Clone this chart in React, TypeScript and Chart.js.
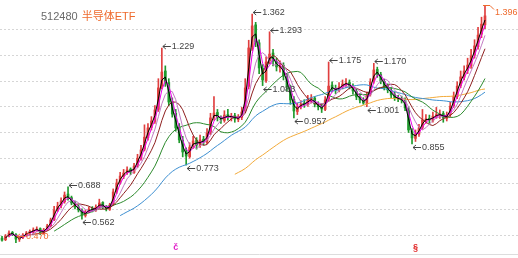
import { useEffect, useRef } from 'react';
import { Chart, registerables } from 'chart.js';

Chart.register(...registerables);

// ---- data (one candle per ~3.7 trading days) ----
const opens = [
  0.488, 0.482, 0.497, 0.510, 0.502, 0.483, 0.490, 0.499, 0.510, 0.511,
  0.519, 0.525, 0.507, 0.522, 0.536, 0.560, 0.600, 0.615, 0.630, 0.660,
  0.646, 0.626, 0.610, 0.597, 0.576, 0.592, 0.603, 0.596, 0.610, 0.627,
  0.610, 0.600, 0.620, 0.670, 0.705, 0.728, 0.745, 0.757, 0.744, 0.772,
  0.798, 0.835, 0.880, 0.920, 0.943, 0.990, 1.080, 1.140, 1.095, 1.020,
  0.975, 0.920, 0.870, 0.826, 0.806, 0.845, 0.870, 0.849, 0.874, 0.861,
  0.900, 0.959, 0.978, 0.955, 0.947, 0.970, 0.958, 0.966, 0.951, 0.959,
  0.985, 1.080, 1.235, 1.320, 1.250, 1.150, 1.102, 1.180, 1.210, 1.176,
  1.154, 1.162, 1.118, 1.075, 1.030, 0.982, 1.003, 1.013, 1.009, 1.030,
  1.034, 1.009, 1.002, 0.990, 1.030, 1.085, 1.068, 1.064, 1.080, 1.087,
  1.095, 1.079, 1.060, 1.041, 1.025, 1.013, 1.050, 1.100, 1.146, 1.126,
  1.099, 1.080, 1.064, 1.048, 1.033, 1.029, 1.025, 0.993, 0.905, 0.877,
  0.893, 0.920, 0.947, 0.955, 0.947, 0.966, 0.966, 0.974, 0.955, 0.970,
  1.005, 1.040, 1.084, 1.115, 1.143, 1.160, 1.202, 1.235, 1.284, 1.320,
];
const highs = [
  0.495, 0.502, 0.516, 0.514, 0.506, 0.494, 0.506, 0.514, 0.520, 0.528,
  0.532, 0.528, 0.526, 0.542, 0.566, 0.612, 0.628, 0.645, 0.668, 0.688,
  0.652, 0.632, 0.618, 0.602, 0.596, 0.610, 0.611, 0.618, 0.640, 0.630,
  0.615, 0.624, 0.680, 0.718, 0.745, 0.756, 0.766, 0.762, 0.780, 0.815,
  0.850, 0.930, 0.935, 0.962, 1.005, 1.110, 1.229, 1.160, 1.110, 1.035,
  0.990, 0.935, 0.885, 0.840, 0.860, 0.885, 0.880, 0.890, 0.885, 0.915,
  0.975, 1.040, 0.990, 0.965, 0.985, 0.990, 0.975, 0.975, 0.970, 0.998,
  1.110, 1.260, 1.362, 1.330, 1.262, 1.165, 1.195, 1.293, 1.225, 1.190,
  1.180, 1.172, 1.128, 1.085, 1.040, 1.015, 1.025, 1.028, 1.045, 1.048,
  1.040, 1.020, 1.012, 1.040, 1.175, 1.098, 1.085, 1.095, 1.105, 1.110,
  1.105, 1.090, 1.070, 1.052, 1.036, 1.058, 1.110, 1.170, 1.155, 1.135,
  1.108, 1.090, 1.075, 1.058, 1.045, 1.042, 1.035, 1.000, 0.915, 0.910,
  0.932, 0.990, 0.970, 0.968, 0.980, 0.998, 0.988, 0.982, 0.980, 1.018,
  1.058, 1.098, 1.140, 1.160, 1.190, 1.225, 1.262, 1.310, 1.350, 1.396,
];
const lows = [
  0.476, 0.478, 0.493, 0.498, 0.470, 0.475, 0.486, 0.496, 0.503, 0.506,
  0.514, 0.502, 0.503, 0.518, 0.532, 0.556, 0.592, 0.606, 0.624, 0.636,
  0.618, 0.602, 0.590, 0.562, 0.570, 0.586, 0.590, 0.592, 0.604, 0.602,
  0.594, 0.596, 0.616, 0.662, 0.698, 0.720, 0.736, 0.736, 0.740, 0.764,
  0.792, 0.828, 0.870, 0.910, 0.935, 0.982, 1.070, 1.080, 1.005, 0.960,
  0.905, 0.860, 0.805, 0.773, 0.800, 0.838, 0.835, 0.842, 0.852, 0.855,
  0.892, 0.948, 0.945, 0.935, 0.940, 0.948, 0.945, 0.940, 0.942, 0.950,
  0.978, 1.070, 1.220, 1.235, 1.130, 1.083, 1.095, 1.168, 1.160, 1.140,
  1.135, 1.105, 1.062, 1.010, 0.957, 0.970, 0.992, 0.998, 1.002, 1.015,
  1.000, 0.988, 0.978, 0.985, 1.022, 1.058, 1.052, 1.058, 1.070, 1.075,
  1.070, 1.050, 1.028, 1.015, 1.010, 1.001, 1.042, 1.092, 1.115, 1.090,
  1.066, 1.055, 1.035, 1.025, 1.020, 1.015, 0.985, 0.900, 0.855, 0.865,
  0.885, 0.912, 0.935, 0.935, 0.940, 0.955, 0.955, 0.940, 0.945, 0.962,
  0.998, 1.032, 1.075, 1.105, 1.130, 1.150, 1.190, 1.225, 1.270, 1.305,
];
const closes = [
  0.480, 0.496, 0.508, 0.504, 0.484, 0.488, 0.500, 0.508, 0.512, 0.520,
  0.523, 0.508, 0.520, 0.535, 0.559, 0.598, 0.613, 0.633, 0.656, 0.644,
  0.625, 0.609, 0.598, 0.578, 0.590, 0.601, 0.598, 0.609, 0.625, 0.609,
  0.601, 0.617, 0.668, 0.703, 0.730, 0.742, 0.754, 0.746, 0.769, 0.800,
  0.832, 0.882, 0.918, 0.945, 0.988, 1.074, 1.136, 1.097, 1.019, 0.972,
  0.918, 0.871, 0.824, 0.808, 0.843, 0.867, 0.851, 0.871, 0.863, 0.898,
  0.957, 0.976, 0.957, 0.949, 0.968, 0.960, 0.964, 0.953, 0.957, 0.980,
  1.074, 1.230, 1.316, 1.253, 1.152, 1.105, 1.175, 1.206, 1.179, 1.156,
  1.160, 1.120, 1.078, 1.027, 0.984, 1.000, 1.011, 1.011, 1.027, 1.031,
  1.011, 1.000, 0.992, 1.027, 1.081, 1.070, 1.066, 1.078, 1.089, 1.093,
  1.081, 1.062, 1.039, 1.027, 1.015, 1.046, 1.097, 1.144, 1.128, 1.101,
  1.078, 1.066, 1.046, 1.035, 1.031, 1.027, 0.996, 0.910, 0.879, 0.895,
  0.918, 0.949, 0.953, 0.949, 0.964, 0.968, 0.972, 0.957, 0.968, 1.003,
  1.042, 1.081, 1.117, 1.140, 1.163, 1.199, 1.238, 1.280, 1.323, 1.355,
];

// moving-average periods (in candles) and their line colours
const maPeriods = [2, 3, 5, 8, 16, 35, 68];
const maColors = ['#000000', '#ee00ee', '#c27bc2', '#8e1f1f', '#2c8a2c', '#3d8fd1', '#f2aa3a'];

// candles whose high / low is marked with a value label
const highLabelIdx = [19, 46, 72, 77, 94, 107, 139];
const lowLabelIdx = [4, 23, 53, 75, 84, 105, 118];

// event markers under the candles
const markerIdx = [50, 119];
const markerText = ['č', '§'];

const gridValues = [0.5, 0.6, 0.7, 0.8, 0.9, 1.0, 1.1, 1.2, 1.3];
const titleCode = '512480';
const titleName = '半导体ETF';

const X_MIN = -0.58;
const X_MAX = 148.5;
const Y_MIN = 0.426;
const Y_MAX = 1.417;

const UP = '#e03f3f';
const DOWN = '#1f9a2c';
const LABEL = '#444444';
const HILITE = '#ee6a2c';
const FONT = '"Liberation Sans", "Noto Sans CJK SC", sans-serif';

function movingAverage(values: number[], n: number) {
  return values.map((_, i) => {
    if (i < n - 1) return { x: i, y: null as number | null };
    let s = 0;
    for (let k = i - n + 1; k <= i; k++) s += values[k];
    return { x: i, y: s / n };
  });
}

export default function App() {
  const ref = useRef<HTMLCanvasElement>(null);

  useEffect(() => {
    if (!ref.current) return;
    const colors = closes.map((c, i) => (c >= opens[i] ? UP : DOWN));
    const maxHigh = Math.max(...highs);
    const minLow = Math.min(...lows);

    const overlay = {
      id: 'overlay',
      afterDatasetsDraw(chart: any) {
        const ctx = chart.ctx as CanvasRenderingContext2D;
        const xs = chart.scales.x;
        const ys = chart.scales.y;
        ctx.save();
        ctx.lineWidth = 1;
        ctx.textAlign = 'left';
        ctx.textBaseline = 'middle';
        ctx.font = '9px ' + FONT;

        const arrowLabel = (x: number, y: number, text: string, color: string) => {
          const yy = Math.round(y) + 0.5;
          ctx.strokeStyle = color;
          ctx.beginPath();
          ctx.moveTo(x, yy);
          ctx.lineTo(x + 8, yy);
          ctx.moveTo(x + 3, yy - 2.5);
          ctx.lineTo(x, yy);
          ctx.lineTo(x + 3, yy + 2.5);
          ctx.stroke();
          ctx.fillStyle = color;
          ctx.fillText(text, x + 9, y + 0.5);
        };

        highLabelIdx.forEach((i) => {
          const v = highs[i];
          const x = xs.getPixelForValue(i) + 1;
          const y = ys.getPixelForValue(v);
          if (v === maxHigh) {
            const yy = Math.round(y) + 0.5;
            ctx.strokeStyle = HILITE;
            ctx.beginPath();
            ctx.moveTo(x - 3, yy);
            ctx.lineTo(x + 4, yy);
            ctx.lineTo(x + 8, yy + 4);
            ctx.stroke();
            ctx.fillStyle = HILITE;
            ctx.fillText(v.toFixed(3), x + 9, y + 7);
          } else {
            arrowLabel(x, y - 2, v.toFixed(3), LABEL);
          }
        });
        lowLabelIdx.forEach((i) => {
          const v = lows[i];
          const x = xs.getPixelForValue(i) + 1;
          const y = ys.getPixelForValue(v);
          if (v === minLow) {
            arrowLabel(x, Math.min(y, 236), v.toFixed(3), HILITE);
          } else {
            arrowLabel(x, y + 3, v.toFixed(3), LABEL);
          }
        });

        // title
        ctx.font = '11px ' + FONT;
        ctx.fillStyle = '#6a6a6a';
        ctx.fillText(titleCode, 41, 17);
        const w = ctx.measureText(titleCode).width;
        ctx.fillStyle = HILITE;
        ctx.fillText(titleName, 41 + w + 4, 17);

        // markers
        ctx.font = 'bold 9px ' + FONT;
        ctx.textAlign = 'center';
        markerIdx.forEach((i, k) => {
          ctx.fillStyle = k === 0 ? '#e020c8' : '#e02020';
          ctx.fillText(markerText[k], xs.getPixelForValue(i), 248);
        });
        ctx.restore();
      },
    };

    const chart = new Chart(ref.current, {
      type: 'bar',
      data: {
        datasets: [
          ...maPeriods.map((n, k) => ({
            type: 'line' as const,
            data: movingAverage(closes, n),
            borderColor: maColors[k],
            borderWidth: 1,
            pointRadius: 0,
            tension: 0,
            spanGaps: false,
            order: 1,
          })),
          {
            type: 'bar' as const,
            data: closes.map((_, i) => ({ x: i, y: [lows[i], highs[i]] })),
            backgroundColor: colors,
            borderWidth: 0,
            barThickness: 1,
            grouped: false,
            order: 10,
          },
          {
            type: 'bar' as const,
            data: closes.map((c, i) => ({ x: i, y: [opens[i], c] })),
            backgroundColor: colors,
            borderWidth: 0,
            barThickness: 2,
            minBarLength: 1,
            grouped: false,
            order: 9,
          },
        ] as any,
      },
      options: {
        animation: false,
        responsive: false,
        devicePixelRatio: 1,
        layout: { padding: { left: 0, right: 0, top: 0, bottom: 4 } },
        plugins: { legend: { display: false }, tooltip: { enabled: false } },
        scales: {
          x: {
            type: 'linear',
            min: X_MIN,
            max: X_MAX,
            offset: false,
            grid: { display: false, drawTicks: false },
            ticks: { display: false },
            border: { display: true, color: '#dddddd' },
          },
          y: {
            type: 'linear',
            min: Y_MIN,
            max: Y_MAX,
            afterBuildTicks: (scale: any) => {
              scale.ticks = gridValues.map((v) => ({ value: v }));
            },
            grid: { color: '#d6d6d6', lineWidth: 1, drawTicks: false },
            ticks: { display: false },
            border: { display: false, dash: [2, 2] },
          },
        },
      } as any,
      plugins: [overlay],
    });
    return () => chart.destroy();
  }, []);

  return (
    <div style={{ position: 'absolute', left: 0, top: 0, width: 518, height: 258, background: '#fff' }}>
      <canvas ref={ref} width={518} height={258} style={{ display: 'block' }} />
    </div>
  );
}
